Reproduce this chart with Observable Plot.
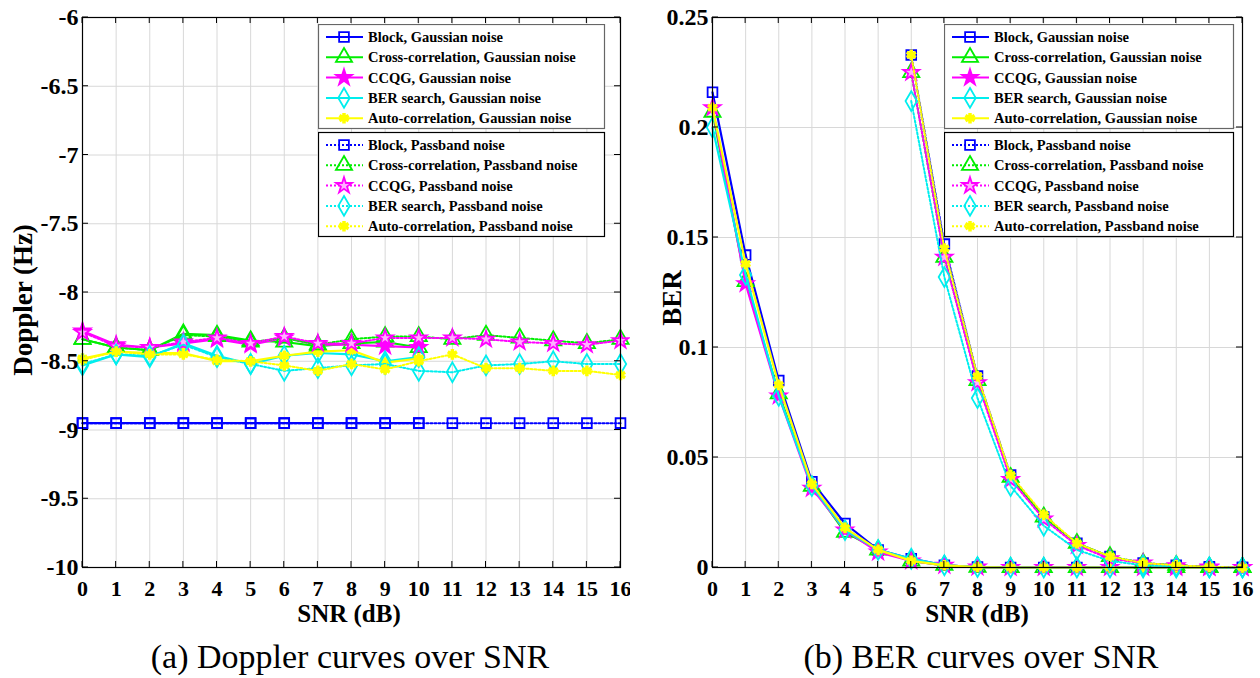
<!DOCTYPE html>
<html><head><meta charset="utf-8">
<script src="https://cdn.jsdelivr.net/npm/d3@7"></script>
<script src="https://cdn.jsdelivr.net/npm/@observablehq/plot@0.6"></script>
<style>
body{margin:0;background:#fff;}
#wrap{position:relative;width:1260px;height:678px;font-family:"Liberation Serif","Times New Roman",serif;color:#000;}
.panel{position:absolute;top:0;}
.panel svg text{font-family:"Liberation Serif","Times New Roman",serif !important;font-weight:bold;}
.panel svg g[aria-label="y-axis tick label"]{font-size:24px !important;}
.panel svg g[aria-label="x-axis tick label"]{font-size:22px !important;}
.cap{position:absolute;top:637px;font-size:34px;line-height:1.15;transform:translateX(-50%);white-space:nowrap;}
.axl{position:absolute;font-size:25px;line-height:1;font-weight:bold;white-space:nowrap;transform:translate(-50%,-50%);}
.rot{font-size:27px;transform:translate(-50%,-50%) rotate(-90deg);}
.leg{position:absolute;}
</style></head>
<body><div id="wrap"></div>
<script>
// ---------- data ----------
const snr = [0,1,2,3,4,5,6,7,8,9,10,11,12,13,14,15,16];
const snrG = [0,1,2,3,4,5,6,7,8,9,10];
const snrP6 = [6,7,8,9,10,11,12,13,14,15,16];

const methods = ["Block","Cross-correlation","CCQG","BER search","Auto-correlation"];
const colors = ["#0000ff","#00ee00","#ff00ff","#00eeee","#ffff00"];
const symbols = ["square","triangle","star","diamond","asterisk"];

// Doppler (Hz), Gaussian noise, SNR 0..10
const dopBlockG = [-8.95,-8.95,-8.95,-8.95,-8.95,-8.95,-8.95,-8.95,-8.95,-8.95,-8.95];
const dopCrossG = [-8.34,-8.40,-8.42,-8.30,-8.31,-8.35,-8.36,-8.39,-8.37,-8.36,-8.40];
const dopCCQGG  = [-8.28,-8.38,-8.40,-8.37,-8.34,-8.38,-8.33,-8.38,-8.38,-8.39,-8.40];
const dopBERG   = [-8.53,-8.45,-8.47,-8.37,-8.46,-8.52,-8.46,-8.44,-8.45,-8.50,-8.47];
const dopAutoG  = [-8.48,-8.43,-8.44,-8.44,-8.50,-8.50,-8.46,-8.43,-8.42,-8.51,-8.48];
// Doppler (Hz), Passband noise, SNR 0..16
const dopBlockP = [-8.95,-8.95,-8.95,-8.95,-8.95,-8.95,-8.95,-8.95,-8.95,-8.95,-8.95,-8.95,-8.95,-8.95,-8.95,-8.95,-8.95];
const dopCrossP = [-8.34,-8.40,-8.42,-8.31,-8.32,-8.36,-8.33,-8.38,-8.34,-8.32,-8.32,-8.34,-8.31,-8.33,-8.35,-8.37,-8.34];
const dopCCQGP  = [-8.29,-8.39,-8.40,-8.36,-8.33,-8.37,-8.32,-8.37,-8.37,-8.33,-8.33,-8.33,-8.34,-8.36,-8.37,-8.38,-8.35];
const dopBERP   = [-8.52,-8.45,-8.46,-8.38,-8.47,-8.52,-8.57,-8.55,-8.53,-8.52,-8.57,-8.58,-8.53,-8.52,-8.50,-8.52,-8.52];
const dopAutoP  = [-8.49,-8.43,-8.45,-8.45,-8.49,-8.50,-8.53,-8.57,-8.52,-8.56,-8.50,-8.45,-8.55,-8.55,-8.57,-8.57,-8.60];

// BER, Gaussian noise, SNR 0..16
const berBlockG = [0.216,0.142,0.085,0.039,0.020,0.008,0.004,0.001,0.0002,0,0,0,0,0,0,0,0];
const berCrossG = [0.207,0.130,0.079,0.037,0.016,0.008,0.003,0.001,0.0002,0,0,0,0,0,0,0,0];
const berCCQGG  = [0.209,0.129,0.078,0.036,0.017,0.007,0.003,0.001,0.0002,0,0,0,0,0,0,0,0];
const berBERG   = [0.200,0.133,0.078,0.037,0.017,0.008,0.004,0.001,0.0002,0,0,0,0,0,0,0,0];
const berAutoG  = [0.209,0.138,0.083,0.038,0.018,0.008,0.003,0.001,0.0002,0,0,0,0,0,0,0,0];
// BER, Passband noise, SNR 6..16
const berBlockP = [0.233,0.147,0.087,0.042,0.023,0.011,0.005,0.002,0.001,0.0003,0];
const berCrossP = [0.225,0.141,0.085,0.041,0.023,0.011,0.005,0.002,0.001,0.0002,0];
const berCCQGP  = [0.225,0.141,0.084,0.040,0.022,0.010,0.004,0.002,0.0008,0.0002,0];
const berBERP   = [0.212,0.132,0.077,0.037,0.019,0.008,0.003,0.001,0.0005,0.0001,0];
const berAutoP  = [0.233,0.145,0.087,0.042,0.024,0.011,0.005,0.002,0.001,0.0003,0];

const dopTicks = [-10,-9.5,-9,-8.5,-8,-7.5,-7,-6.5,-6];
const berTicks = [0,0.05,0.1,0.15,0.2,0.25];

// ---------- build ----------
function series(xs, ys, m, noise){ return {m, noise, data: xs.map((x,i)=>({x, y: ys[i]}))}; }
const dopSeries = [
  series(snrG, dopBlockG,0,"G"), series(snrG, dopCrossG,1,"G"), series(snrG, dopCCQGG,2,"G"),
  series(snrG, dopBERG,3,"G"), series(snrG, dopAutoG,4,"G"),
  series(snr, dopBlockP,0,"P"), series(snr, dopCrossP,1,"P"), series(snr, dopCCQGP,2,"P"),
  series(snr, dopBERP,3,"P"), series(snr, dopAutoP,4,"P")
];
const berSeries = [
  series(snr, berBlockG,0,"G"), series(snr, berCrossG,1,"G"), series(snr, berCCQGG,2,"G"),
  series(snr, berBERG,3,"G"), series(snr, berAutoG,4,"G"),
  series(snrP6, berBlockP,0,"P"), series(snrP6, berCrossP,1,"P"), series(snrP6, berCCQGP,2,"P"),
  series(snrP6, berBERP,3,"P"), series(snrP6, berAutoP,4,"P")
];

const markR = [5.5, 6, 5, 6, 5];
function markFill(m, noise){
  if (m===2) return noise==="G" ? colors[2] : "#ffb0ff";
  if (m===4) return colors[4];
  return "none";
}
function seriesMarks(list){
  const out = [];
  for (const s of list){
    const c = colors[s.m];
    out.push(Plot.line(s.data, {x:"x", y:"y", stroke:c, strokeWidth: s.noise==="G"?2.2:2,
      strokeDasharray: s.noise==="P" ? "2,2" : null}));
    out.push(Plot.dot(s.data, {x:"x", y:"y", symbol: ()=>symbols[s.m], stroke:c,
      fill: markFill(s.m, s.noise), r: markR[s.m], strokeWidth: s.m===4?3.5:1.8}));
  }
  return out;
}

function panel(opts){
  return Plot.plot({
    width: 630, height: 610,
    marginLeft: 82, marginRight: opts.mr, marginTop: 17, marginBottom: 43,
    x: {domain:[0,16]},
    y: {domain: opts.domain},
    symbol: {type:"identity"},
    style: "font-family:'Liberation Serif','Times New Roman',serif;font-size:22px;font-weight:bold;color:#000;background:#fff;overflow:visible;",
    marks: [
      Plot.gridX(snr, {stroke:"#d8d8d8", strokeOpacity:1}),
      Plot.gridY(opts.ticks, {stroke:"#d8d8d8", strokeOpacity:1}),
      ...seriesMarks(opts.series),
      Plot.frame({stroke:"#000", strokeWidth:1.2}),
      Plot.axisX(snr, {anchor:"bottom", tickSize:0, tickPadding:13, fontSize:22, tickFormat:d=>String(d), label:null}),
      Plot.axisY(opts.ticks, {anchor:"left", tickSize:0, tickPadding:4, fontSize:24, tickFormat:d=>String(d), label:null})
    ]
  });
}

const wrap = document.getElementById("wrap");
function place(el, left){ const d=document.createElement("div"); d.className="panel"; d.style.left=left+"px"; d.appendChild(el); wrap.appendChild(d); }
place(panel({domain:[-10,-6], ticks:dopTicks, series:dopSeries, mr:10}), 0);
place(panel({domain:[0,0.25], ticks:berTicks, series:berSeries, mr:18}), 630);

// inward tick marks on frame edges (axis decoration)
function inwardTicks(svgLeft, x0, x1, y0, y1, nx, ny){
  const svg = d3.select(wrap).append("svg").attr("class","leg").style("left",svgLeft+"px").style("top","0px")
    .attr("width",630).attr("height",610).style("pointer-events","none");
  for (let i=0;i<=nx;i++){
    const x = x0 + (x1-x0)*i/nx;
    svg.append("line").attr("x1",x).attr("x2",x).attr("y1",y0).attr("y2",y0+6).attr("stroke","#000");
    svg.append("line").attr("x1",x).attr("x2",x).attr("y1",y1).attr("y2",y1-6).attr("stroke","#000");
  }
  for (let j=0;j<=ny;j++){
    const y = y1 - (y1-y0)*j/ny;
    svg.append("line").attr("x1",x0).attr("x2",x0+6).attr("y1",y).attr("y2",y).attr("stroke","#000");
    svg.append("line").attr("x1",x1).attr("x2",x1-6).attr("y1",y).attr("y2",y).attr("stroke","#000");
  }
}
inwardTicks(0, 82, 620, 17, 567, 16, dopTicks.length-1);
inwardTicks(630, 82, 612, 17, 567, 16, berTicks.length-1);

// ---------- legends ----------
const symPath = {square:d3.symbolSquare, triangle:d3.symbolTriangle, star:d3.symbolStar, diamond:d3.symbolDiamond, asterisk:d3.symbolAsterisk};
function legend(left, top, width){
  const svg = d3.select(wrap).append("svg").attr("class","leg")
    .style("left",left+"px").style("top",top+"px").attr("width",width+2).attr("height",216);
  const boxes = [{noise:"G", y:0, border:"#666", label:"Gaussian noise"},{noise:"P", y:108, border:"#000", label:"Passband noise"}];
  for (const b of boxes){
    svg.append("rect").attr("x",0.5).attr("y",b.y+0.5).attr("width",width).attr("height",104)
      .attr("fill","#fff").attr("stroke",b.border).attr("stroke-width",1.2);
    methods.forEach((m,i)=>{
      const cy = b.y + 13 + i*20.3;
      const c = colors[i];
      svg.append("line").attr("x1",8).attr("x2",45).attr("y1",cy).attr("y2",cy).attr("stroke",c)
        .attr("stroke-width",2).attr("stroke-dasharray", b.noise==="P"?"2,2":null);
      const sz = Math.PI*markR[i]*markR[i];
      svg.append("path").attr("d", d3.symbol(symPath[symbols[i]], sz)()).attr("transform",`translate(26,${cy})`)
        .attr("stroke",c).attr("stroke-width", i===4?3.5:1.8).attr("fill", markFill(i,b.noise));
      svg.append("text").attr("x",50).attr("y",cy).attr("dy","0.35em")
        .attr("font-family",'"Liberation Serif","Times New Roman",serif').attr("font-weight","bold")
        .attr("font-size",14.5).attr("fill","#000").text(`${m}, ${b.label}`);
    });
  }
}
legend(318, 24, 286);
legend(944, 24, 289);

// ---------- axis labels & captions ----------
function addDiv(cls, text, x, y){ const d=document.createElement("div"); d.className=cls; d.textContent=text; d.style.left=x+"px"; if (y!=null) d.style.top=y+"px"; wrap.appendChild(d); }
addDiv("axl","SNR (dB)",349,613);
addDiv("axl","SNR (dB)",977,613);
addDiv("axl rot","Doppler (Hz)",23,300);
addDiv("axl rot","BER",672,298);
addDiv("cap","(a) Doppler curves over SNR",350,null);
addDiv("cap","(b) BER curves over SNR",981,null);
</script>
</body></html>
